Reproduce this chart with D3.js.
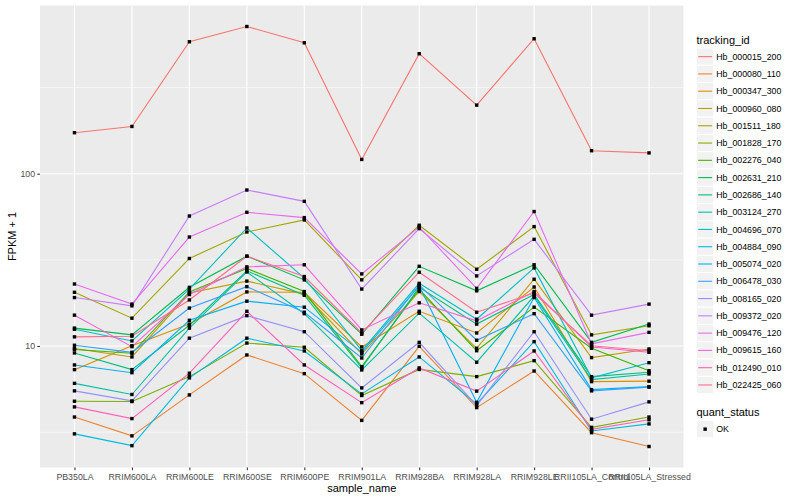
<!DOCTYPE html>
<html><head><meta charset="utf-8">
<script src="https://cdn.jsdelivr.net/npm/d3@7"></script>
<style>body{margin:0;background:#fff} text{font-family:"Liberation Sans",Arial,Helvetica,sans-serif}</style>
</head><body><svg id="c" width="800" height="500"></svg>
<script>
const categories = ["PB350LA","RRIM600LA","RRIM600LE","RRIM600SE","RRIM600PE","RRIM901LA","RRIM928BA","RRIM928LA","RRIM928LE","RRII105LA_Control","RRII105LA_Stressed"];
const trackingIds = ["Hb_000015_200","Hb_000080_110","Hb_000347_300","Hb_000960_080","Hb_001511_180","Hb_001828_170","Hb_002276_040","Hb_002631_210","Hb_002686_140","Hb_003124_270","Hb_004696_070","Hb_004884_090","Hb_005074_020","Hb_006478_030","Hb_008165_020","Hb_009372_020","Hb_009476_120","Hb_009615_160","Hb_012490_010","Hb_022425_060"];
const seriesColors = ["#F8766D","#EA8331","#D89000","#C09B00","#A3A500","#7CAE00","#39B600","#00BB4E","#00BF7D","#00C1A3","#00BFC4","#00BAE0","#00B0F6","#35A2FF","#9590FF","#C77CFF","#E76BF3","#FA62DB","#FF62BC","#FF6C91"];
const yTicks = [10, 100];
const yMinor = [3.162, 31.62, 316.2];

const hb_000015_200 = [173, 188, 583, 715, 575, 121, 497, 250, 607, 136, 132];
const hb_000080_110 = [3.87, 3.01, 5.20, 8.87, 6.91, 3.70, 9.96, 4.39, 7.16, 3.14, 2.61];
const hb_000347_300 = [7.29, 10.04, 13.4, 20.6, 20.5, 9.87, 15.9, 11.9, 22.0, 6.21, 6.25];
const hb_000960_080 = [9.67, 8.64, 20.3, 23.8, 20.0, 8.99, 20.7, 9.70, 24.4, 8.56, 9.61];
const hb_001511_180 = [20.5, 14.5, 32.2, 45.9, 53.9, 24.2, 50.2, 27.9, 49.3, 11.6, 13.1];
const hb_001828_170 = [4.78, 4.76, 6.64, 10.4, 9.83, 5.16, 7.31, 6.64, 8.22, 3.37, 3.87];
const hb_002276_040 = [9.54, 9.07, 20.6, 28.2, 20.7, 7.59, 21.4, 9.39, 16.8, 9.70, 7.19];
const hb_002631_210 = [12.7, 11.6, 21.9, 33.2, 24.2, 11.7, 29.0, 20.9, 29.6, 10.5, 13.4];
const hb_002686_140 = [9.11, 7.29, 13.2, 27.3, 19.7, 7.46, 21.9, 13.4, 19.9, 6.64, 7.04];
const hb_003124_270 = [6.07, 5.23, 12.7, 26.9, 15.4, 7.26, 15.5, 8.05, 19.5, 6.38, 6.88];
const hb_004696_070 = [12.5, 10.7, 21.4, 48.4, 24.8, 9.39, 23.1, 14.3, 28.4, 6.53, 8.00];
const hb_004884_090 = [3.09, 2.64, 6.53, 11.1, 9.36, 5.27, 8.64, 4.61, 10.6, 3.21, 3.53];
const hb_005074_020 = [7.76, 7.00, 14.1, 18.2, 16.8, 9.19, 22.3, 4.71, 19.1, 5.58, 5.81];
const hb_006478_030 = [10.1, 9.19, 16.6, 22.1, 15.7, 8.52, 22.6, 10.8, 15.4, 5.49, 5.77];
const hb_008165_020 = [5.49, 4.80, 11.1, 15.0, 12.1, 5.71, 10.5, 4.51, 12.1, 3.76, 4.74];
const hb_009372_020 = [19.1, 17.1, 56.8, 80.4, 69.1, 21.4, 48.0, 25.5, 41.6, 15.1, 17.5];
const hb_009476_120 = [22.9, 17.5, 42.9, 59.7, 55.6, 26.2, 49.1, 21.6, 60.3, 10.3, 12.0];
const hb_009615_160 = [15.1, 9.91, 19.9, 28.8, 29.6, 12.4, 17.8, 14.0, 20.7, 9.87, 9.19];
const hb_012490_010 = [4.43, 3.79, 6.95, 15.9, 7.76, 4.69, 7.46, 5.47, 9.36, 3.28, 3.73];
const hb_022425_060 = [11.3, 11.4, 18.5, 33.2, 25.3, 11.9, 26.8, 15.7, 20.3, 10.04, 9.39];

const seriesValues = [hb_000015_200, hb_000080_110, hb_000347_300, hb_000960_080, hb_001511_180, hb_001828_170, hb_002276_040, hb_002631_210, hb_002686_140, hb_003124_270, hb_004696_070, hb_004884_090, hb_005074_020, hb_006478_030, hb_008165_020, hb_009372_020, hb_009476_120, hb_009615_160, hb_012490_010, hb_022425_060];

const series = trackingIds.map((id, i) => ({id, color: seriesColors[i], values: seriesValues[i].map((v, j) => ({cat: categories[j], v}))}));

const svg = d3.select("#c");
const P = {l: 40, r: 683.5, t: 5.5, b: 467.5};

const x = d3.scalePoint().domain(categories).range([P.l, P.r]).padding(0.6);
const all = seriesValues.flat();
const lmin = Math.log10(d3.min(all)), lmax = Math.log10(d3.max(all));
const ex = (lmax - lmin) * 0.05;
const y = d3.scaleLog().domain([Math.pow(10, lmin - ex), Math.pow(10, lmax + ex)]).range([P.b, P.t]);

svg.append("rect").attr("x", P.l).attr("y", P.t).attr("width", P.r - P.l).attr("height", P.b - P.t).attr("fill", "#EBEBEB");
const grid = svg.append("g");
grid.selectAll(".ymin").data(yMinor.filter(v => y(v) > P.t && y(v) < P.b)).join("line")
  .attr("x1", P.l).attr("x2", P.r).attr("y1", d => y(d)).attr("y2", d => y(d)).attr("stroke", "#fff").attr("stroke-width", 0.55);
grid.selectAll(".ymaj").data(yTicks).join("line")
  .attr("x1", P.l).attr("x2", P.r).attr("y1", d => y(d)).attr("y2", d => y(d)).attr("stroke", "#fff").attr("stroke-width", 1.1);
grid.selectAll(".xmaj").data(categories).join("line")
  .attr("y1", P.t).attr("y2", P.b).attr("x1", d => x(d)).attr("x2", d => x(d)).attr("stroke", "#fff").attr("stroke-width", 1.1);

const line = d3.line().x(d => x(d.cat)).y(d => y(d.v));
svg.append("g").selectAll("path").data(series).join("path")
  .attr("d", d => line(d.values)).attr("fill", "none").attr("stroke", d => d.color).attr("stroke-width", 1.1);
svg.append("g").selectAll("g").data(series).join("g").selectAll("rect").data(d => d.values).join("rect")
  .attr("x", d => x(d.cat) - 1.7).attr("y", d => y(d.v) - 1.7).attr("width", 3.4).attr("height", 3.4).attr("fill", "#000");

// axes
const yAxis = d3.axisLeft(y).tickValues(yTicks).tickFormat(d3.format("d")).tickSize(2.75).tickPadding(2.2);
const gy = svg.append("g").attr("transform", `translate(${P.l},0)`).call(yAxis);
gy.select(".domain").remove();
gy.selectAll("line").attr("stroke", "#333333").attr("stroke-width", 1.07);
gy.selectAll("text").attr("fill", "#4D4D4D").attr("font-size", 8.8).style("font-family", '"Liberation Sans",Arial,sans-serif');

const xAxis = d3.axisBottom(x).tickSize(2.75).tickPadding(3.6);
const gx = svg.append("g").attr("transform", `translate(0,${P.b})`).call(xAxis);
gx.select(".domain").remove();
gx.selectAll("line").attr("stroke", "#333333").attr("stroke-width", 1.07);
gx.selectAll("text").attr("fill", "#4D4D4D").attr("font-size", 8.8).style("font-family", '"Liberation Sans",Arial,sans-serif');

svg.append("text").attr("x", (P.l + P.r) / 2).attr("y", 492).attr("text-anchor", "middle").attr("font-size", 11).attr("fill", "#000").text("sample_name");
svg.append("text").attr("transform", `translate(16,${(P.t + P.b) / 2}) rotate(-90)`).attr("text-anchor", "middle").attr("font-size", 11).attr("fill", "#000").text("FPKM + 1");

// legend
const lg = svg.append("g");
lg.append("text").attr("x", 696.5).attr("y", 44).attr("font-size", 11).text("tracking_id");
const keyH = 17.28, keyTop = 48;
const items = lg.selectAll("g.it").data(series).join("g").attr("transform", (d, i) => `translate(696.5,${keyTop + i * keyH})`);
items.append("rect").attr("width", keyH).attr("height", keyH).attr("fill", "#F2F2F2").attr("stroke", "#fff").attr("stroke-width", 1);
items.append("line").attr("x1", 1.7).attr("x2", keyH - 1.7).attr("y1", keyH / 2).attr("y2", keyH / 2).attr("stroke", d => d.color).attr("stroke-width", 1.1);
items.append("text").attr("x", keyH + 2.5).attr("y", keyH / 2 + 3.1).attr("font-size", 8.8).text(d => d.id);

lg.append("text").attr("x", 696.5).attr("y", 416).attr("font-size", 11).text("quant_status");
const ok = lg.append("g").attr("transform", `translate(696.5,420.5)`);
ok.append("rect").attr("width", keyH).attr("height", keyH).attr("fill", "#F2F2F2").attr("stroke", "#fff");
ok.append("rect").attr("x", keyH / 2 - 1.7).attr("y", keyH / 2 - 1.7).attr("width", 3.4).attr("height", 3.4).attr("fill", "#000");
ok.append("text").attr("x", keyH + 2.5).attr("y", keyH / 2 + 3.1).attr("font-size", 8.8).text("OK");
</script></body></html>
